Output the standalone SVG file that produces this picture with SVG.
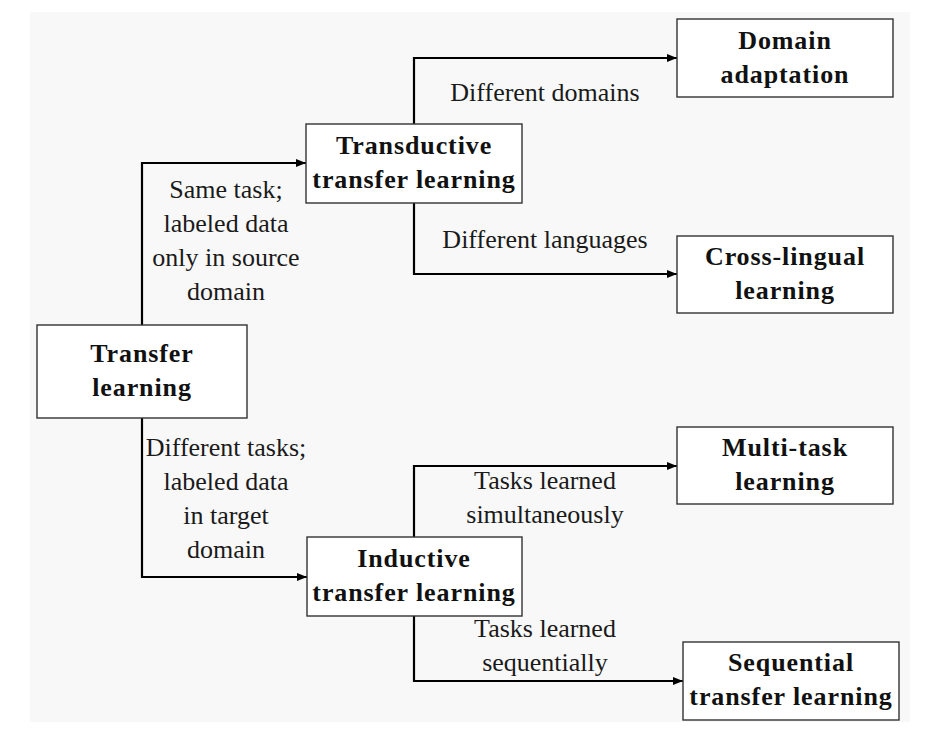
<svg xmlns="http://www.w3.org/2000/svg" width="944" height="742" viewBox="0 0 944 742">
  <style>
    .box { fill: #ffffff; stroke: #333333; stroke-width: 1.4; }
    text { font-family: 'Liberation Serif', 'DejaVu Serif', serif; text-anchor: middle; }
    .title { font-size: 26px; font-weight: 700; letter-spacing: 0.9px; fill: #111111; }
    .label { font-size: 26px; font-weight: 400; fill: #1a1a1a; }
    .link { fill: none; stroke: #000000; stroke-width: 2.2; marker-end: url(#arrow); }
  </style>
  <defs>
    <marker id="arrow" markerWidth="10" markerHeight="8" refX="10" refY="4" orient="auto" markerUnits="userSpaceOnUse">
      <path d="M0,0 L10,4 L0,8 Z" fill="#000000"/>
    </marker>
  </defs>

  <!-- page -->
  <rect x="0" y="0" width="944" height="742" fill="#ffffff"/>
  <rect x="30" y="12" width="880" height="710" fill="#f8f8f8"/>

  <!-- connectors -->
  <g id="connectors">
    <path class="link" d="M142,325 V163 H306"/>
    <path class="link" d="M142,418 V577 H307"/>
    <path class="link" d="M414,124 V58 H677"/>
    <path class="link" d="M414,203 V274 H677"/>
    <path class="link" d="M414,537 V466 H677"/>
    <path class="link" d="M414,616 V681 H683"/>

    <g font-family="Liberation Serif, serif">
      <text class="label" x="226" y="198">Same task;</text>
      <text class="label" x="226" y="232">labeled data</text>
      <text class="label" x="226" y="266">only in source</text>
      <text class="label" x="226" y="300">domain</text>

      <text class="label" x="226" y="456">Different tasks;</text>
      <text class="label" x="226" y="490">labeled data</text>
      <text class="label" x="226" y="524">in target</text>
      <text class="label" x="226" y="558">domain</text>

      <text class="label" x="545" y="101">Different domains</text>
      <text class="label" x="545" y="248">Different languages</text>

      <text class="label" x="545" y="489">Tasks learned</text>
      <text class="label" x="545" y="523">simultaneously</text>

      <text class="label" x="545" y="637">Tasks learned</text>
      <text class="label" x="545" y="671">sequentially</text>
    </g>
  </g>

  <!-- nodes -->
  <g id="transfer-learning">
    <rect class="box" x="37" y="325" width="210" height="93"/>
    <text class="title" x="142" y="362">Transfer</text>
    <text class="title" x="142" y="396">learning</text>
  </g>

  <g id="transductive">
    <rect class="box" x="306" y="124" width="216" height="79"/>
    <text class="title" x="414" y="154">Transductive</text>
    <text class="title" x="414" y="188">transfer learning</text>
  </g>

  <g id="inductive">
    <rect class="box" x="307" y="537" width="215" height="79"/>
    <text class="title" x="414" y="567">Inductive</text>
    <text class="title" x="414" y="601">transfer learning</text>
  </g>

  <g id="domain-adaptation">
    <rect class="box" x="677" y="19" width="216" height="78"/>
    <text class="title" x="785" y="49">Domain</text>
    <text class="title" x="785" y="83">adaptation</text>
  </g>

  <g id="cross-lingual">
    <rect class="box" x="677" y="236" width="216" height="77"/>
    <text class="title" x="785" y="265">Cross-lingual</text>
    <text class="title" x="785" y="299">learning</text>
  </g>

  <g id="multi-task">
    <rect class="box" x="677" y="427" width="216" height="77"/>
    <text class="title" x="785" y="456">Multi-task</text>
    <text class="title" x="785" y="490">learning</text>
  </g>

  <g id="sequential">
    <rect class="box" x="683" y="642" width="216" height="78"/>
    <text class="title" x="791" y="671">Sequential</text>
    <text class="title" x="791" y="705">transfer learning</text>
  </g>
</svg>
